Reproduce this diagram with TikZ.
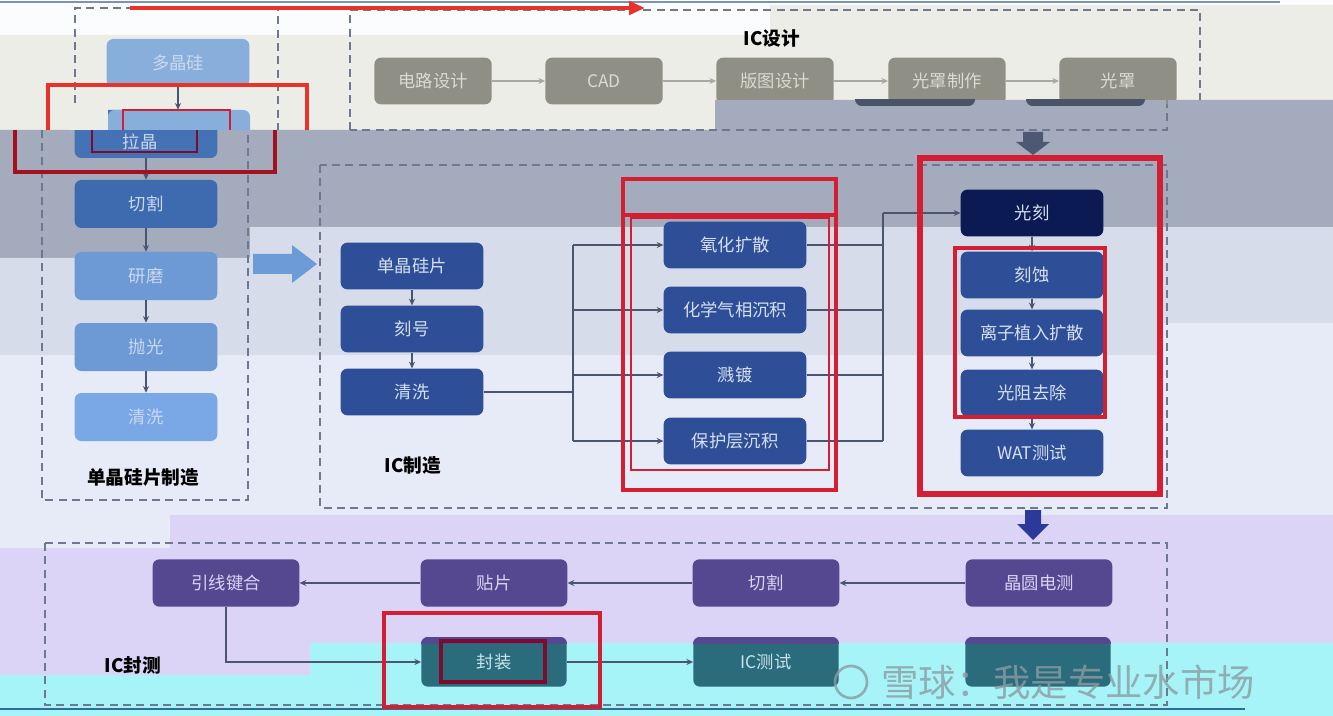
\documentclass[tikz,border=0pt]{standalone}
\usepackage{fontspec}
\newfontfamily\cjk{Noto Sans CJK SC}
\usetikzlibrary{arrows.meta}
\definecolor{cTop}{HTML}{FBFCFD}
\definecolor{cBeige}{HTML}{ECEDE6}
\definecolor{cGray}{HTML}{A3ABBC}
\definecolor{cB}{HTML}{D6DCEA}
\definecolor{cC}{HTML}{E6EBF7}
\definecolor{cLav}{HTML}{DBD4F6}
\definecolor{cCyan}{HTML}{A6F4F7}
\definecolor{cDash}{HTML}{6E7891}
\definecolor{cLine}{HTML}{4A5570}
\definecolor{gLine}{HTML}{A9A99F}
\definecolor{lText}{HTML}{CBD9F0}
\definecolor{cL1}{HTML}{88AEDC}
\definecolor{cL2}{HTML}{4571B5}
\definecolor{cL3}{HTML}{3E6AAF}
\definecolor{cL4}{HTML}{6D99D5}
\definecolor{cL5}{HTML}{7AA8E6}
\definecolor{mBlue}{HTML}{2E4F97}
\definecolor{mNavy}{HTML}{0B1A52}
\definecolor{mText}{HTML}{D6E0F2}
\definecolor{dGray}{HTML}{8F8F86}
\definecolor{dText}{HTML}{DADAD2}
\definecolor{dDark}{HTML}{4A5468}
\definecolor{pPur}{HTML}{564890}
\definecolor{pText}{HTML}{DCD4F4}
\definecolor{tTeal}{HTML}{2A6B7C}
\definecolor{tText}{HTML}{C8E4EA}
\definecolor{rBright}{HTML}{E8322C}
\definecolor{rDark}{HTML}{A3101E}
\definecolor{rRed}{HTML}{D41E32}
\definecolor{rDeep}{HTML}{7A0C2C}
\definecolor{bigArrow}{HTML}{6D9BD8}
\definecolor{downA}{HTML}{4D5873}
\definecolor{downB}{HTML}{2B3A9A}
\definecolor{wmark}{HTML}{8C9CA4}
\tikzset{
  nb/.style={rounded corners=5pt, inner sep=0pt, font=\cjk\fontsize{13}{15}\selectfont, align=center},
  lbox/.style={nb, minimum width=107pt, minimum height=36pt, text=lText},
  mbox/.style={nb, minimum width=107pt, minimum height=35pt, fill=mBlue, text=mText},
  dbox/.style={nb, minimum width=88pt, minimum height=35pt, fill=dGray, text=dText},
  pbox/.style={nb, minimum width=110pt, minimum height=35.5pt, fill=pPur, text=pText},
  tbox/.style={nb, minimum width=109pt, minimum height=37pt, fill=tTeal, text=tText},
  conn/.style={draw=cLine, line width=0.8pt, -{Stealth[length=5pt,width=4.5pt]}},
  gconn/.style={draw=gLine, line width=1pt, -{Stealth[length=5pt,width=4.5pt]}},
  plain/.style={draw=cLine, line width=0.8pt},
  dbx/.style={draw=cDash, line width=1.4pt, dash pattern=on 6pt off 4pt},
  ttl/.style={font=\cjk\bfseries\fontsize{14}{16}\selectfont, text=black},
}
\begin{document}
\begin{tikzpicture}[x=0.75pt,y=-0.75pt]
\useasboundingbox (0,0) rectangle (1333,716);
% ---------- background bands ----------
\fill[cC] (0,0) rectangle (1333,716);
\fill[cTop] (0,0) rectangle (1333,40);
\fill[cBeige] (0,35) -- (770,35) -- (770,5) -- (1333,5) -- (1333,100) -- (715,100) -- (715,130) -- (0,130) -- cycle;
\fill[cGray] (0,130) -- (715,130) -- (715,100) -- (1333,100) -- (1333,227) -- (250,227) -- (250,258) -- (0,258) -- cycle;
\fill[cB] (0,258) -- (250,258) -- (250,227) -- (1333,227) -- (1333,323) -- (1160,323) -- (1160,355) -- (0,355) -- cycle;
\fill[cLav] (0,548) -- (170,548) -- (170,515) -- (1333,515) -- (1333,716) -- (0,716) -- cycle;
\fill[cCyan] (0,675) -- (310,675) -- (310,643) -- (1333,643) -- (1333,716) -- (0,716) -- cycle;
\draw[draw={rgb,255:red,127;green,146;blue,180}, line width=2pt] (0,2) -- (1280,2);
\draw[draw={rgb,255:red,44;green,110;blue,152}, line width=2pt] (0,709) -- (1245,709);

% ---------- dashed group frames ----------
\draw[dbx] (75,130) -- (75,8) -- (278,8) -- (278,130);
\draw[dbx] (42,130) -- (42,500) -- (248,500) -- (248,130);
\draw[dbx] (350,130) -- (350,10) -- (1200,10) -- (1200,100);
\draw[dbx] (1167,100) -- (1167,130) -- (350,130);
\draw[dbx] (320,165) rectangle (1167,508);
\draw[dbx] (45,543) rectangle (1167,705);

% top red arrow
\draw[draw=rBright, line width=3pt, -{Triangle[length=12pt,width=10pt]}] (130,8) -- (645,8);

% ---------- left column: wafer making ----------
\node[lbox, fill=cL1] (dj) at (178,63) {多晶硅};
\node[lbox, fill=cL2] (lj) at (146,134) {};
\fill[cBeige] (70,105) rectangle (108,130);
\begin{scope}
  \clip (100,100) rectangle (260,130);
  \fill[cL1, rounded corners=5pt] (108,110) rectangle (250,158);
\end{scope}
\node[font=\cjk\fontsize{13}{15}\selectfont, text=lText] (ljt) at (140,142) {拉晶};
\node[lbox, fill=cL3] (qg) at (146,204) {切割};
\node[lbox, fill=cL4] (ym) at (146,276) {研磨};
\node[lbox, fill=cL4] (pg) at (146,347) {抛光};
\node[lbox, fill=cL5] (qx) at (146,417) {清洗};
\draw[conn] (dj.south) -- (dj.south |- lj.north);
\draw[conn] (lj) -- (qg);
\draw[conn] (qg) -- (ym);
\draw[conn] (ym) -- (pg);
\draw[conn] (pg) -- (qx);
\node[ttl] (t1) at (143,477) {单晶硅片制造};

% red glitch boxes top-left
\draw[draw=rBright, line width=3.5pt] (48,130) -- (48,85) -- (307,85) -- (307,130);
\draw[draw=rDark, line width=3.5pt] (15,130) -- (15,172) -- (275,172) -- (275,130);
\draw[draw=rRed, line width=2.2pt] (123,130) -- (123,110) -- (230,110) -- (230,130);
\draw[draw=rDeep, line width=2.2pt] (92,130) -- (92,152) -- (197,152) -- (197,130);

% big blue arrow
\fill[bigArrow] (253,254) -- (292,254) -- (292,245) -- (317,264) -- (292,283) -- (292,274) -- (253,274) -- cycle;

% ---------- IC design ----------
\node[ttl] (t2) at (772,38) {IC设计};
\node[dbox] (dl) at (433,81) {电路设计};
\node[dbox] (cad) at (604,81) {CAD};
\node[dbox] (bt) at (775,81) {版图设计};
\node[dbox] (gzz) at (947,81) {光罩制作};
\node[dbox] (gz) at (1118,81) {光罩};
\draw[gconn] (dl) -- (cad);
\draw[gconn] (cad) -- (bt);
\draw[gconn] (bt) -- (gzz);
\draw[gconn] (gzz) -- (gz);
\fill[cGray] (715,100) rectangle (1166,112);
\fill[cGray] (1168,100) rectangle (1199,112);
\begin{scope}
  \clip (700,100) rectangle (1333,120);
  \fill[dDark, rounded corners=5pt] (855,58) rectangle (975,106);
  \fill[dDark, rounded corners=5pt] (1026,58) rectangle (1145,106);
\end{scope}
\fill[downA] (1023,132) -- (1043,132) -- (1043,142) -- (1050,142) -- (1033,155) -- (1016,142) -- (1023,142) -- cycle;

% ---------- IC manufacturing ----------
\node[mbox] (dp) at (412,266) {单晶硅片};
\node[mbox] (kh) at (412,329) {刻号};
\node[mbox] (qx2) at (412,392) {清洗};
\draw[conn] (dp) -- (kh);
\draw[conn] (kh) -- (qx2);
\node[ttl] (t3) at (413,465) {IC制造};

\node[mbox] (yh) at (735,245) {氧化扩散};
\node[mbox] (hx) at (735,310) {化学气相沉积};
\node[mbox] (jd) at (735,375) {溅镀};
\node[mbox] (bh) at (735,441) {保护层沉积};

\coordinate (tr1) at (573,392);
\draw[plain] (qx2.east) -- (tr1);
\draw[plain] (tr1 |- yh) -- (tr1 |- bh);
\draw[conn] (tr1 |- yh) -- (yh.west);
\draw[conn] (tr1 |- hx) -- (hx.west);
\draw[conn] (tr1 |- jd) -- (jd.west);
\draw[conn] (tr1 |- bh) -- (bh.west);

\node[mbox, fill=mNavy] (gk) at (1032,213) {光刻};
\node[mbox] (ks) at (1032,275) {刻蚀};
\node[mbox] (lz) at (1032,333) {离子植入扩散};
\node[mbox] (gq) at (1032,393) {光阻去除};
\node[mbox] (wat) at (1032,453) {WAT测试};
\draw[conn] (gk) -- (ks);
\draw[conn] (ks) -- (lz);
\draw[conn] (lz) -- (gq);
\draw[conn] (gq) -- (wat);

\coordinate (tr2) at (883,300);
\draw[plain] (yh.east) -- (tr2 |- yh);
\draw[plain] (hx.east) -- (tr2 |- hx);
\draw[plain] (jd.east) -- (tr2 |- jd);
\draw[plain] (bh.east) -- (tr2 |- bh);
\draw[plain] (tr2 |- gk) -- (tr2 |- bh);
\draw[conn] (tr2 |- gk) -- (gk.west);

% red boxes
\draw[draw=rRed, line width=3.5pt] (623,179) rectangle (836,490);
\draw[draw=rRed, line width=3pt] (623,215) -- (836,215);
\draw[draw=rRed, line width=2pt] (631,218) rectangle (829,470);
\draw[draw=rRed, line width=4pt] (920,158) rectangle (1160,494);
\draw[draw=rRed, line width=2.5pt] (955,248) rectangle (1105,417);

\fill[downB] (1025,510) -- (1041,510) -- (1041,524) -- (1049,524) -- (1033,540) -- (1017,524) -- (1025,524) -- cycle;

% ---------- IC packaging & test ----------
\node[pbox] (yx) at (226,583) {引线键合};
\node[pbox] (tp) at (494,583) {贴片};
\node[pbox] (qg2) at (766,583) {切割};
\node[pbox] (jy) at (1039,583) {晶圆电测};
\node[tbox] (fz) at (494,662) {封装};
\node[tbox] (ict) at (766,662) {IC测试};
\node[tbox] (sj) at (1038,662) {};
\begin{scope}
  \clip (380,630) rectangle (1120,643);
  \fill[pPur, rounded corners=5pt] (421,637) rectangle (567,687);
  \fill[pPur, rounded corners=5pt] (693,637) rectangle (839,687);
  \fill[pPur, rounded corners=5pt] (965,637) rectangle (1111,687);
\end{scope}
\draw[conn] (jy) -- (qg2);
\draw[conn] (qg2) -- (tp);
\draw[conn] (tp) -- (yx);
\draw[conn] (yx.south) |- (fz.west);
\draw[conn] (fz) -- (ict);
\node[ttl] (t4) at (133,665) {IC封测};

\draw[draw=rRed, line width=3.5pt] (384,613) rectangle (600,707);
\draw[draw=rDeep, line width=2.5pt] (441,641) rectangle (545,682);

% watermark
\draw[draw=wmark, line width=2pt, opacity=0.8] (851,682) circle (16);
\node[font=\cjk\fontsize{28}{30}\selectfont, text=wmark, opacity=0.8] (wm) at (1068,682) {雪球：我是专业水市场};
\end{tikzpicture}
\end{document}
